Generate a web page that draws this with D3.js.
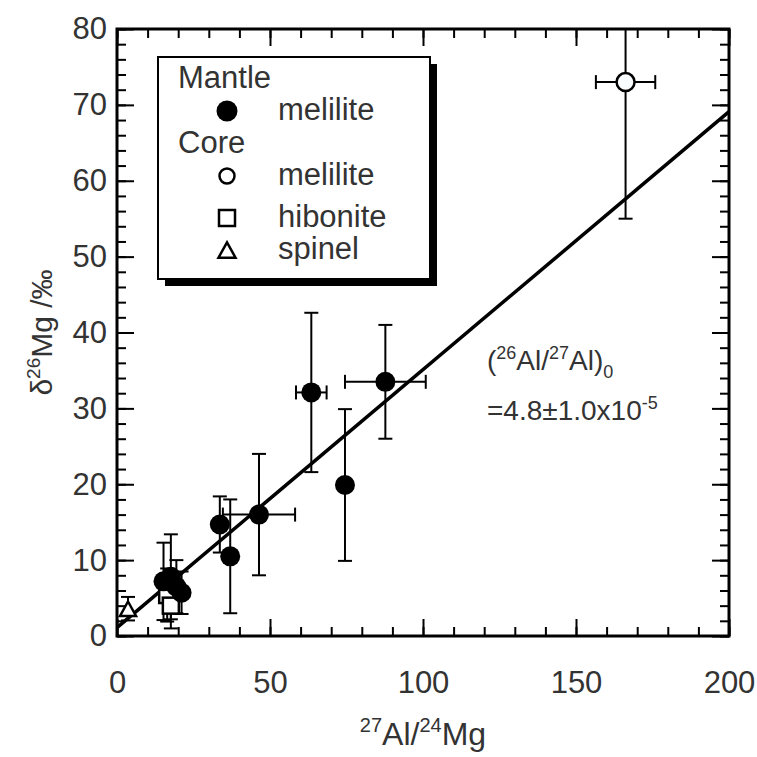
<!DOCTYPE html>
<html>
<head>
<meta charset="utf-8">
<script src="https://cdn.jsdelivr.net/npm/d3@7"></script>
<style>
body { margin: 0; background: #fff; }
text { font-family: "Liberation Sans", Arial, Helvetica, sans-serif; fill: #333; }
</style>
</head>
<body>
<script>
// mantle melilite (filled circles)
var mantleX    = [15.2, 17.6, 19.4, 21.1, 33.6, 37.0, 46.4, 63.5, 74.5, 87.7];
var mantleY    = [7.2, 7.8, 6.5, 5.7, 14.7, 10.5, 16.0, 32.1, 19.9, 33.5];
var mantleYErr = [5.1, 5.6, 3.5, 2.8, 3.7, 7.5, 8.0, 10.5, 10.0, 7.5];
var mantleXErr = [0, 0, 0, 0, 0, 0, 11.8, 5.0, 0, 13.2];

// core melilite (open circle)
var coreMelX = [166.2], coreMelY = [73.0], coreMelYErr = [18.0], coreMelXErr = [9.7];
// core hibonite (open squares)
var hibX = [16.4, 17.6], hibY = [5.4, 4.0], hibYErr = [3.5, 3.0];
// core spinel (open triangle)
var spX = [3.6], spY = [3.6], spYErr = [1.55];

// isochron
var fitIntercept = 1.1, fitSlope = 0.34;

var xTicks = [0, 50, 100, 150, 200];
var yTicks = [0, 10, 20, 30, 40, 50, 60, 70, 80];

var W = 757, H = 757;
var svg = d3.select("body").append("svg").attr("width", W).attr("height", H);

var x = d3.scaleLinear().domain([0, 200]).range([117, 729]);
var y = d3.scaleLinear().domain([0, 80]).range([636, 29]);

var fs = 31;

// axes, ticks point inward
var gx = svg.append("g").attr("transform", "translate(0," + y(0) + ")")
    .call(d3.axisBottom(x).tickValues(xTicks).tickSize(-17).tickPadding(35));
var gxm = svg.append("g").attr("transform", "translate(0," + y(0) + ")")
    .call(d3.axisBottom(x).tickValues(d3.range(0, 201, 10)).tickSize(-9).tickFormat(""));
var gxt = svg.append("g").attr("transform", "translate(0," + y(80) + ")")
    .call(d3.axisTop(x).tickValues(xTicks).tickSize(-17).tickFormat(""));
var gxtm = svg.append("g").attr("transform", "translate(0," + y(80) + ")")
    .call(d3.axisTop(x).tickValues(d3.range(0, 201, 10)).tickSize(-9).tickFormat(""));
var gy = svg.append("g").attr("transform", "translate(" + x(0) + ",0)")
    .call(d3.axisLeft(y).tickValues(yTicks).tickSize(-17).tickPadding(10));
var gym = svg.append("g").attr("transform", "translate(" + x(0) + ",0)")
    .call(d3.axisLeft(y).tickValues(d3.range(0, 81, 2)).tickSize(-9).tickFormat(""));
var gyr = svg.append("g").attr("transform", "translate(" + x(200) + ",0)")
    .call(d3.axisRight(y).tickValues(yTicks).tickSize(-17).tickFormat(""));
var gyrm = svg.append("g").attr("transform", "translate(" + x(200) + ",0)")
    .call(d3.axisRight(y).tickValues(d3.range(0, 81, 2)).tickSize(-9).tickFormat(""));

[gx, gxm, gxt, gxtm, gy, gym, gyr, gyrm].forEach(function (g) {
    g.select(".domain").remove();
    g.selectAll("line").attr("stroke", "#000").attr("stroke-width", 2);
    g.selectAll("text").attr("font-size", fs + "px").attr("fill", "#333")
        .attr("font-family", '"Liberation Sans", Arial, sans-serif');
});

svg.append("rect")
    .attr("x", x(0)).attr("y", y(80))
    .attr("width", x(200) - x(0)).attr("height", y(0) - y(80))
    .attr("fill", "none").attr("stroke", "#000").attr("stroke-width", 3);

// axis titles
var xl = svg.append("text").attr("x", x(100)).attr("y", 745)
    .attr("text-anchor", "middle").attr("font-size", "32px");
xl.append("tspan").attr("font-size", "20px").attr("dy", -13).text("27");
xl.append("tspan").attr("dy", 13).text("Al/");
xl.append("tspan").attr("font-size", "20px").attr("dy", -13).text("24");
xl.append("tspan").attr("dy", 13).text("Mg");

var yl = svg.append("text")
    .attr("transform", "translate(52," + y(40) + ") rotate(-90)")
    .attr("text-anchor", "middle").attr("font-size", "30px");
yl.append("tspan").text("δ");
yl.append("tspan").attr("font-size", "19px").attr("dy", -12).text("26");
yl.append("tspan").attr("dy", 12).text("Mg /‰");

// clip for marks
svg.append("clipPath").attr("id", "plotclip").append("rect")
    .attr("x", x(0)).attr("y", y(80))
    .attr("width", x(200) - x(0)).attr("height", y(0) - y(80));
var plot = svg.append("g").attr("clip-path", "url(#plotclip)");

var cap = 7;
function errBars(xs, ys, yerr, xerr) {
    xs.forEach(function (xv, i) {
        var cx = x(xv), cy = y(ys[i]);
        if (yerr && yerr[i]) {
            var y1 = y(ys[i] + yerr[i]), y2 = y(ys[i] - yerr[i]);
            plot.append("line").attr("x1", cx).attr("x2", cx).attr("y1", y1).attr("y2", y2)
                .attr("stroke", "#000").attr("stroke-width", 2);
            [y1, y2].forEach(function (yy) {
                plot.append("line").attr("x1", cx - cap).attr("x2", cx + cap)
                    .attr("y1", yy).attr("y2", yy).attr("stroke", "#000").attr("stroke-width", 2);
            });
        }
        if (xerr && xerr[i]) {
            var x1 = x(xv - xerr[i]), x2 = x(xv + xerr[i]);
            plot.append("line").attr("x1", x1).attr("x2", x2).attr("y1", cy).attr("y2", cy)
                .attr("stroke", "#000").attr("stroke-width", 2);
            [x1, x2].forEach(function (xx) {
                plot.append("line").attr("x1", xx).attr("x2", xx)
                    .attr("y1", cy - cap).attr("y2", cy + cap).attr("stroke", "#000").attr("stroke-width", 2);
            });
        }
    });
}

errBars(spX, spY, spYErr, null);
errBars(hibX, hibY, hibYErr, null);
errBars(mantleX, mantleY, mantleYErr, mantleXErr);
errBars(coreMelX, coreMelY, coreMelYErr, coreMelXErr);

// isochron line
plot.append("line")
    .attr("x1", x(0)).attr("y1", y(fitIntercept))
    .attr("x2", x(200)).attr("y2", y(fitIntercept + fitSlope * 200))
    .attr("stroke", "#000").attr("stroke-width", 3.5);

function triPath(cx, cy, s) {
    var h = s * 0.9;
    return "M" + cx + "," + (cy - h / 2) + "L" + (cx + s / 2) + "," + (cy + h / 2) +
        "L" + (cx - s / 2) + "," + (cy + h / 2) + "Z";
}

spX.forEach(function (v, i) {
    plot.append("path").attr("d", triPath(x(v), y(spY[i]), 16))
        .attr("fill", "#fff").attr("stroke", "#000").attr("stroke-width", 2.5);
});
hibX.forEach(function (v, i) {
    plot.append("rect").attr("x", x(v) - 8).attr("y", y(hibY[i]) - 8)
        .attr("width", 16).attr("height", 16)
        .attr("fill", "#fff").attr("stroke", "#000").attr("stroke-width", 2.5);
});
plot.selectAll("circle.mantle").data(mantleX).enter().append("circle")
    .attr("class", "mantle")
    .attr("cx", function (d) { return x(d); })
    .attr("cy", function (d, i) { return y(mantleY[i]); })
    .attr("r", 10).attr("fill", "#000");
coreMelX.forEach(function (v, i) {
    plot.append("circle").attr("cx", x(v)).attr("cy", y(coreMelY[i])).attr("r", 9)
        .attr("fill", "#fafdff").attr("stroke", "#000").attr("stroke-width", 2.5);
});

// annotation
var a1 = svg.append("text").attr("x", 487).attr("y", 370).attr("font-size", "28px");
a1.append("tspan").text("(");
a1.append("tspan").attr("font-size", "18px").attr("dy", -11).text("26");
a1.append("tspan").attr("dy", 11).text("Al/");
a1.append("tspan").attr("font-size", "18px").attr("dy", -11).text("27");
a1.append("tspan").attr("dy", 11).text("Al)");
a1.append("tspan").attr("font-size", "18px").attr("dy", 8).text("0");
var a2 = svg.append("text").attr("x", 487).attr("y", 420).attr("font-size", "28px");
a2.append("tspan").text("=4.8±1.0x10");
a2.append("tspan").attr("font-size", "18px").attr("dy", -11).text("-5");

// legend
var lg = svg.append("g");
lg.append("rect").attr("x", 165).attr("y", 64).attr("width", 272).attr("height", 222).attr("fill", "#000");
lg.append("rect").attr("x", 158).attr("y", 57).attr("width", 272).attr("height", 222)
    .attr("fill", "#fff").attr("stroke", "#000").attr("stroke-width", 2);

var legendHeads = ["Mantle", "Core"], legendHeadY = [88, 153];
var legendLabels = ["melilite", "melilite", "hibonite", "spinel"], legendLabelY = [120, 185, 227, 259];
var legendSym = ["filled", "open", "square", "triangle"];

legendHeads.forEach(function (t, i) {
    lg.append("text").attr("x", 178).attr("y", legendHeadY[i]).attr("font-size", "31px").text(t);
});
legendLabels.forEach(function (t, i) {
    var by = legendLabelY[i];
    lg.append("text").attr("x", 278).attr("y", by).attr("font-size", "31px").text(t);
    var sx = 227, sy = by - 9;
    if (legendSym[i] === "filled") {
        lg.append("circle").attr("cx", sx).attr("cy", sy).attr("r", 10.5).attr("fill", "#000");
    } else if (legendSym[i] === "open") {
        lg.append("circle").attr("cx", sx).attr("cy", sy).attr("r", 7.5)
            .attr("fill", "#fff").attr("stroke", "#000").attr("stroke-width", 2.5);
    } else if (legendSym[i] === "square") {
        lg.append("rect").attr("x", sx - 8).attr("y", sy - 8).attr("width", 16).attr("height", 16)
            .attr("fill", "#fff").attr("stroke", "#000").attr("stroke-width", 2.5);
    } else {
        lg.append("path").attr("d", triPath(sx, sy, 17))
            .attr("fill", "#fff").attr("stroke", "#000").attr("stroke-width", 2.5);
    }
});
</script>
</body>
</html>
